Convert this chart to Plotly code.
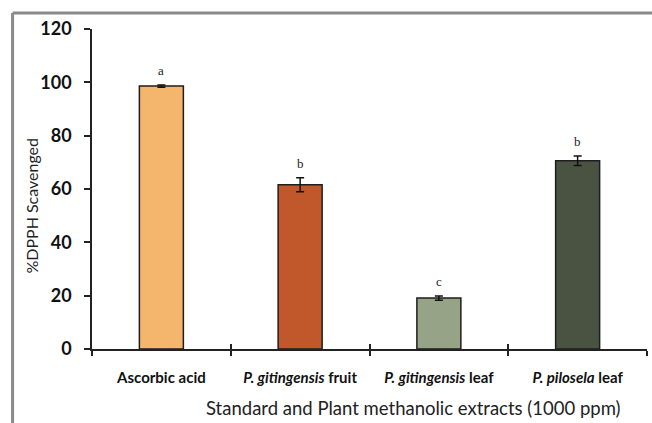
import plotly.graph_objects as go

# Data
categories = ["Ascorbic acid", "P. gitingensis fruit", "P. gitingensis leaf", "P. pilosela leaf"]
tick_labels = [
    "<b>Ascorbic acid</b>",
    "<b><i>P. gitingensis</i> fruit</b>",
    "<b><i>P. gitingensis</i> leaf</b>",
    "<b><i>P. pilosela</i> leaf</b>",
]
scavenged = [98.6, 61.6, 19.1, 70.6]
errors = [0.4, 2.6, 0.8, 1.8]
letters = ["a", "b", "c", "b"]
colors = ["#F4B56C", "#C0582B", "#97A387", "#4A5242"]
y_ticks = [0, 20, 40, 60, 80, 100, 120]

W, H = 652, 423
ml, mr, mt, mb = 91.5, 5, 29, 74
pw = W - ml - mr
ph = H - mt - mb

fig = go.Figure()
fig.add_trace(go.Bar(
    x=categories,
    y=scavenged,
    width=0.317,
    marker=dict(color=colors, line=dict(color="#1e1e1e", width=1.5)),
    error_y=dict(type="data", array=errors, visible=True,
                 color="#111111", thickness=1.5, width=4),
    showlegend=False,
))

# invisible trace to drive the overlaid linear axis (inner half of the crossing ticks)
fig.add_trace(go.Scatter(x=[-0.5, 3.5], y=[0, 0], xaxis="x2", mode="lines",
                         line=dict(width=0), hoverinfo="skip", showlegend=False))

# significance letters above the error bars
for cat, v, e, t in zip(categories, scavenged, errors, letters):
    fig.add_annotation(x=cat, y=v + e, text=t, showarrow=False,
                       yanchor="bottom", yshift=5,
                       font=dict(family="Liberation Serif", size=13, color="#222222"))

# axis titles
fig.add_annotation(xref="paper", yref="paper",
                   x=(413 - ml) / pw, y=(H - mb - 408) / ph,
                   text="Standard and Plant methanolic extracts (1000 ppm)",
                   showarrow=False, xanchor="center", yanchor="middle",
                   font=dict(family="Lato", size=18.5, color="#222222"))
fig.add_annotation(xref="paper", yref="paper",
                   x=(30 - ml) / pw, y=(H - mb - 206) / ph,
                   text="%DPPH Scavenged", textangle=-90,
                   showarrow=False, xanchor="center", yanchor="middle",
                   font=dict(family="Lato", size=16, color="#222222"))

# outer frame lines
fx = (12 - ml) / pw
fy = (H - mb - 13) / ph
fig.add_shape(type="line", xref="paper", yref="paper", x0=fx, x1=fx, y0=fy, y1=-mb / ph - 0.05,
              line=dict(color="#8A8A8A", width=3))
fig.add_shape(type="line", xref="paper", yref="paper", x0=fx, x1=1 + mr / pw + 0.05, y0=fy, y1=fy,
              line=dict(color="#8A8A8A", width=3))

fig.update_layout(
    width=W, height=H,
    margin=dict(l=ml, r=mr, t=mt, b=mb),
    paper_bgcolor="white", plot_bgcolor="white",
    bargap=0.5,
    xaxis=dict(
        type="category", categoryorder="array", categoryarray=categories,
        range=[-0.5, 3.5],
        tickmode="array", tickvals=categories, ticktext=tick_labels,
        tickson="boundaries", ticks="outside", ticklen=5, tickwidth=1.5, tickcolor="#222222",
        showline=True, linecolor="#222222", linewidth=1.5,
        showgrid=False, zeroline=False,
        ticklabelstandoff=14,
        tickfont=dict(family="Lato", size=15, color="#111111"),
    ),
    xaxis2=dict(
        overlaying="x", range=[-0.5, 3.5], side="bottom",
        tickmode="array", tickvals=[-0.5, 0.5, 1.5, 2.5, 3.5],
        ticks="inside", ticklen=5, tickwidth=1.5, tickcolor="#222222",
        showticklabels=False, showline=False, showgrid=False, zeroline=False,
    ),
    yaxis=dict(
        range=[0, 120], tickmode="array", tickvals=y_ticks,
        ticks="outside", ticklen=6, tickwidth=1.5, tickcolor="#222222",
        showline=True, linecolor="#222222", linewidth=1.5,
        showgrid=False, zeroline=False,
        ticklabelstandoff=9,
        tickfont=dict(family="Lato", size=18, color="#111111", weight="bold"),
    ),
)

fig.write_html("out.html")
